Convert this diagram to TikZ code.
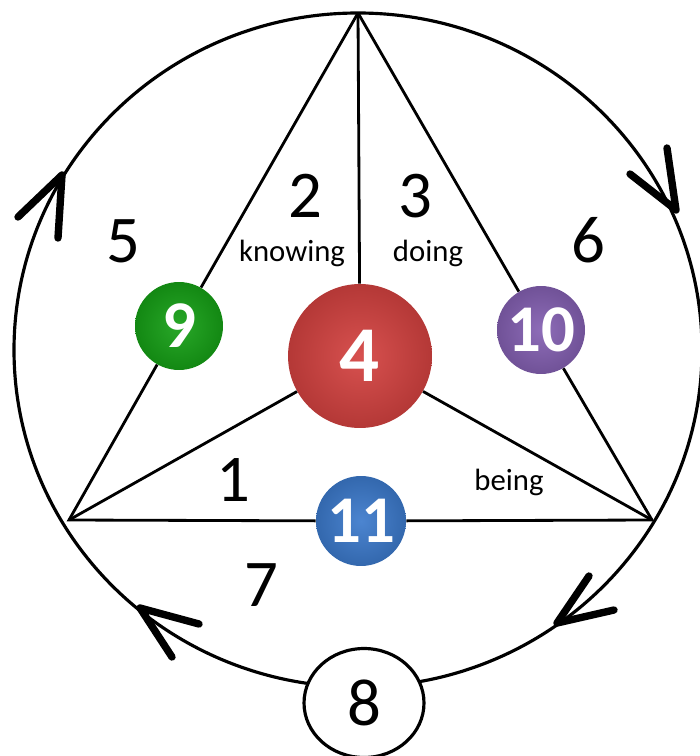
\documentclass[tikz,border=0pt]{standalone}
\usepackage{fontspec}
\setmainfont{Carlito}
\usepackage{tikz}
\usetikzlibrary{shapes.geometric}

\definecolor{redball}{RGB}{212,66,64}
\definecolor{greenball}{RGB}{22,160,22}
\definecolor{purpleball}{RGB}{132,96,178}
\definecolor{blueball}{RGB}{60,122,204}

\begin{document}
\begin{tikzpicture}[x=0.02cm,y=-0.02cm,
		num/.style={font=\fontsize{38}{40}\selectfont},
		word/.style={font=\fontsize{17.5}{20}\selectfont},
		ball/.style={circle,inner sep=0pt,minimum size=1.76cm,text=white,
			inner color=#1!92!white,outer color=#1!85!black,
			font=\bfseries\fontsize{38}{40}\selectfont},
		arrowv/.style={line width=4.2pt,line cap=round,line join=round}]
		\useasboundingbox (0,0) rectangle (699,756);

		% >>> outer cycle
		\draw[line width=1.8pt] (358,350) ellipse [x radius=344,y radius=337];
		\draw[arrowv] (18,217) -- (62,175) -- (58,238);
		\draw[arrowv] (630,174) -- (676,210) -- (667,148);
		\draw[arrowv] (589,576) -- (557,623) -- (614,610);
		\draw[arrowv] (199,624) -- (140,608) -- (172,657);
		\node[draw,ellipse,line width=1.8pt,fill=white,minimum width=2.4cm,
			minimum height=2.18cm,num] (n8) at (364,703) {8};
		% <<< outer cycle

		% >>> triangle
		\coordinate (top) at (358,13);
		\coordinate (lv) at (69,520);
		\coordinate (rv) at (652,520);

		\node[ball=redball,minimum size=2.88cm,font=\bfseries\fontsize{45}{47}\selectfont] (n4) at (360,356) {4};
		\node[ball=greenball] (n9) at (179,326) {9};
		\node[ball=purpleball] (n10) at (541,330) {10};
		\node[ball=blueball,minimum size=1.8cm] (n11) at (361,521) {11};

		\draw[line width=1.6pt] (top) -- (n9) -- (lv) -- (n11) -- (rv) -- (n10) -- (top);
		\draw[line width=1.6pt] (top) -- (n4);
		\draw[line width=1.6pt] (lv) -- (n4) -- (rv);
		% <<< triangle

		% >>> labels
		\node[num] (l5) at (123,241) {5};
		\node[num] (l2) at (305,196) {2};
		\node[num] (l3) at (415,196) {3};
		\node[num] (l6) at (588,240) {6};
		\node[num] (l1) at (233,480) {1};
		\node[num] (l7) at (261,585) {7};
		\node[word] (knowing) at (292,253) {knowing};
		\node[word] (doing) at (428,253) {doing};
		\node[word] (being) at (509,482) {being};
		% <<< labels
	\end{tikzpicture}
\end{document}
